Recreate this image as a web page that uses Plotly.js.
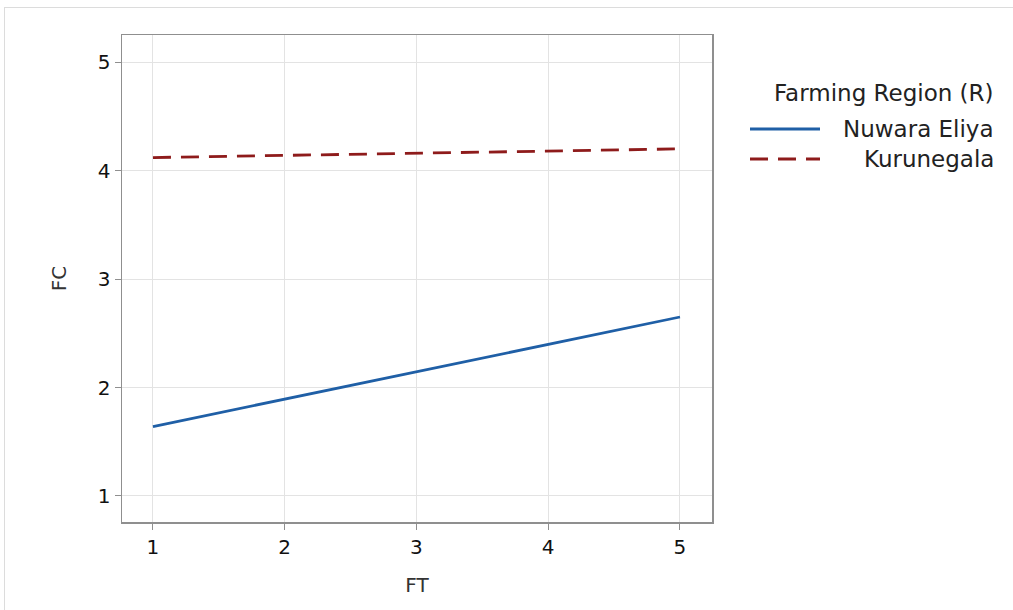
<!DOCTYPE html>
<html><head><meta charset="utf-8">
<script src="https://cdn.plot.ly/plotly-3.0.1.min.js"></script>
<style>
html,body{margin:0;padding:0;background:#fff;}
#wrap{position:relative;width:1013px;height:610px;}
#plot{width:1013px;height:610px;}
#frame{position:absolute;left:4px;top:7px;width:1020px;height:620px;border:1px solid #dcdcdc;pointer-events:none;}
</style></head>
<body><div id="wrap"><div id="plot"></div><div id="frame"></div></div>
<script>
const ftValues = [1, 5];
const nuwaraEliya = [1.64, 2.65];
const kurunegala = [4.12, 4.20];
const seriesNames = ["Nuwara Eliya", "Kurunegala"];
const legendTitle = "Farming Region (R)";
const tickVals = [1, 2, 3, 4, 5];

const font = "'DejaVu Sans', 'Open Sans', sans-serif";
const colors = ["#1f5fa6", "#8e1b1b"];
const dashes = ["solid", "18px,10px"];
const traces = [
  {x: ftValues, y: nuwaraEliya, name: seriesNames[0], mode: "lines",
   line: {color: colors[0], width: 2.8, dash: dashes[0]}},
  {x: ftValues, y: kurunegala, name: seriesNames[1], mode: "lines",
   line: {color: colors[1], width: 2.8, dash: dashes[1]}}
];
const axisCommon = {
  showgrid: true, gridcolor: "#e3e3e3", gridwidth: 1,
  showline: true, linecolor: "#8f8f8f", linewidth: 1.5, mirror: true,
  ticks: "outside", ticklen: 6, tickcolor: "#8f8f8f",
  zeroline: false, tickvals: tickVals,
  tickfont: {family: font, size: 20, color: "#111"}
};
// custom legend (right-aligned labels, long swatches)
const legX0 = (750 - 122) / 590, legX1 = (820 - 122) / 590, legTextX = (996 - 122) / 590;
const legYs = [(522 - 129) / 487, (522 - 159) / 487];
const legTitleY = (522 - 93) / 487;
const shapes = seriesNames.map((n, i) => ({
  type: "line", xref: "paper", yref: "paper", x0: legX0, x1: legX1, y0: legYs[i], y1: legYs[i],
  line: {color: colors[i], width: 2.8, dash: dashes[i]}
}));
const annotations = [
  {text: legendTitle, xref: "paper", yref: "paper", x: legTextX, y: legTitleY,
   xanchor: "right", yanchor: "middle", showarrow: false,
   font: {family: font, size: 23, color: "#222"}}
].concat(seriesNames.map((n, i) => ({
  text: n, xref: "paper", yref: "paper", x: legTextX, y: legYs[i],
  xanchor: "right", yanchor: "middle", showarrow: false,
  font: {family: font, size: 23, color: "#222"}
})));
const layout = {
  width: 1013, height: 610,
  margin: {l: 122, r: 301, t: 35, b: 88},
  paper_bgcolor: "#fff", plot_bgcolor: "#fff",
  xaxis: Object.assign({}, axisCommon, {range: [0.765, 5.243],
    title: {text: "FT", font: {family: font, size: 20, color: "#333"}, standoff: 20}}),
  yaxis: Object.assign({}, axisCommon, {range: [0.76, 5.25],
    title: {text: "FC", font: {family: font, size: 20, color: "#333"}, standoff: 26}}),
  showlegend: false,
  shapes: shapes,
  annotations: annotations
};
Plotly.newPlot("plot", traces, layout, {displayModeBar: false, staticPlot: true});
</script></body></html>
